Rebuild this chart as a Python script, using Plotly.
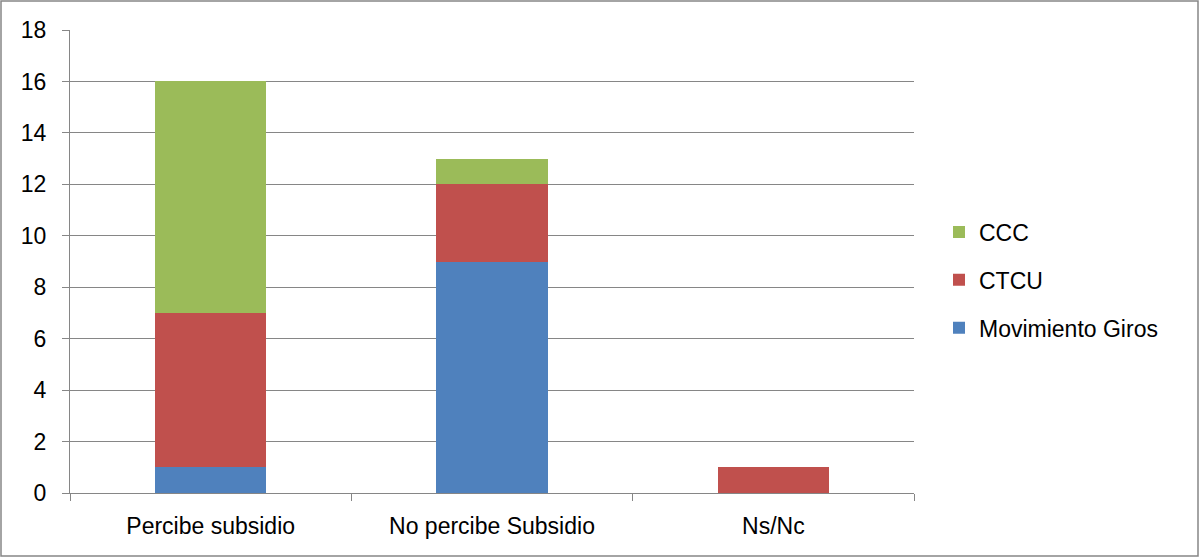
import plotly.graph_objects as go

categories = ["Percibe subsidio", "No percibe Subsidio", "Ns/Nc"]
movimiento_giros = [1, 9, 0]
ctcu = [6, 3, 1]
ccc = [9, 1, 0]
y_ticks = [0, 2, 4, 6, 8, 10, 12, 14, 16, 18]

W, H = 1201, 558
ml, mr, mt, mb = 70, 287, 30, 65
pw, ph = W - ml - mr, H - mt - mb

fig = go.Figure()
for name, vals, col, rank in [("Movimiento Giros", movimiento_giros, "#4F81BD", 3),
                              ("CTCU", ctcu, "#C0504D", 2),
                              ("CCC", ccc, "#9BBB59", 1)]:
    fig.add_trace(go.Bar(x=categories, y=vals, name=name, marker_color=col,
                         marker_line_width=0, legendgroup=name, legendrank=rank))

font = "Liberation Sans"
fig.update_layout(
    width=W, height=H, barmode="stack", bargap=0.605,
    margin=dict(l=ml, r=mr, t=mt, b=mb),
    paper_bgcolor="white", plot_bgcolor="white",
    font=dict(family=font, size=23, color="black"),
    legend=dict(x=(939 - ml) / pw, xanchor="left", y=(493 - 280) / ph, yanchor="middle",
                traceorder="grouped", tracegroupgap=15,
                font=dict(size=23), itemwidth=30),
    xaxis=dict(showline=True, linecolor="#868686", linewidth=1, ticks="outside",
               tickson="boundaries", ticklen=7, tickcolor="#868686",
               tickfont=dict(size=23), showgrid=False, ticklabelstandoff=12),
    yaxis=dict(range=[0, 18], tickvals=y_ticks, showline=True, linecolor="#868686",
               linewidth=1, ticks="outside", ticklen=7, tickcolor="#868686",
               gridcolor="#868686", gridwidth=1, tickfont=dict(size=23),
               zeroline=False, ticklabelstandoff=11),
    shapes=[dict(type="rect", xref="paper", yref="paper",
                 x0=(1 - ml) / pw, x1=(1198 - ml) / pw,
                 y0=(H - 556 - mb) / ph, y1=(H - 1 - mb) / ph,
                 line=dict(color="#868686", width=1.5), fillcolor="rgba(0,0,0,0)")],
)
fig.write_html("out.html", config={"displayModeBar": False},
               post_script="document.body.style.margin='0';document.body.style.overflow='hidden';")
